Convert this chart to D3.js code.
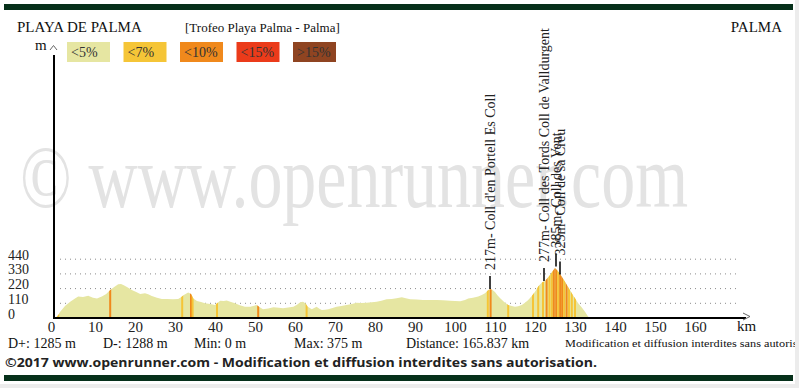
<!DOCTYPE html>
<html lang="fr">
<head>
<meta charset="utf-8">
<title>Profil</title>
<script src="https://cdn.jsdelivr.net/npm/d3@7"></script>
<style>
  body { margin: 0; background: #fff; }
  svg text { font-family: "Liberation Serif", "Times New Roman", serif; }
</style>
</head>
<body>
<div id="chart"></div>
<script>
// distance (km) and altitude (m)
var dist = [0, 0.8, 1.3, 2.5, 3.8, 5, 5.8, 7, 8.3, 9.5, 10.5, 11.7, 12.8, 13.8, 14.8, 15.8, 16.5, 17.2, 18.2, 19.2,
  20.3, 21.3, 22.5, 23.3, 24.2, 25.5, 26.7, 28, 29.5, 30.8, 31.5, 32.2, 33.3, 34, 34.6, 35.5, 36.5, 37.5, 38.8, 40,
  40.6, 41.3, 42.2, 42.9, 44, 45, 46.2, 47.5, 48.8, 50.4, 51.2, 52, 53.3, 54.6, 56, 57, 58.3, 59.6, 60.5, 61.3,
  62, 62.6, 63.2, 64.2, 64.8, 65.4, 66.1, 66.7, 67.5, 68.3, 69.4, 70.4, 71.6, 72.9, 74.2, 75.4, 76.6, 77.9, 79.2, 80.4,
  81.6, 82.9, 84.2, 85.4, 86.7, 87.7, 88.8, 90.4, 92, 93.7, 95.4, 97, 98.8, 100, 101.3, 102.5, 103.3, 104.5, 105.8, 106.7,
  107.5, 108.2, 108.75, 109.3, 110, 110.6, 111.3, 112.3, 113.3, 114.2, 115, 115.8, 116.7, 117.5, 118.3, 119.2, 120, 120.8, 121.7, 122.5,
  123.1, 123.75, 124.4, 125, 125.6, 126.25, 126.9, 127.5, 128.3, 129.2, 130, 130.8, 131.7, 132.5, 133.3, 134.5, 136, 138, 140, 142,
  144, 146, 148, 150, 152, 154, 156, 158, 160, 162, 164, 165.837];
var elev = [0, 20, 47, 90, 122, 145, 160, 158, 166, 152, 145, 160, 180, 210, 232, 252, 255, 245, 228, 210,
  195, 180, 186, 178, 165, 152, 142, 143, 141, 142, 155, 172, 190, 180, 145, 128, 120, 110, 104, 97,
  112, 130, 127, 131, 120, 110, 95, 85, 85, 97, 80, 65, 72, 80, 76, 73, 78, 85, 100, 117,
  122, 110, 85, 65, 75, 85, 70, 60, 62, 65, 75, 85, 90, 97, 105, 115, 113, 115, 118, 122,
  130, 140, 143, 147, 155, 148, 140, 138, 135, 134, 135, 133, 130, 128, 125, 135, 145, 152, 160, 172,
  185, 205, 217, 212, 195, 170, 147, 120, 97, 90, 85, 88, 97, 115, 135, 165, 197, 235, 265, 277,
  298, 322, 350, 375, 355, 330, 300, 272, 230, 185, 148, 110, 78, 47, 10, 4, 3, 5, 3, 4,
  6, 3, 5, 3, 6, 4, 3, 5, 4, 3, 2, 0];

// steep sections: km and slope class (index into legend)
var steepKm = [0.8, 13.8, 31.8, 34.0, 34.4, 40.5, 50.8, 62.9, 108.2, 108.9, 113.3, 119.5, 120.8, 122.0, 122.9,
  123.6, 124.2, 124.7, 125.3, 125.8, 126.3, 126.8, 127.3, 127.9, 128.5, 129.2, 130.0];
var steepClass = [1, 2, 1, 2, 1, 1, 2, 1, 1, 2, 1, 1, 1, 1, 2, 1, 1, 2, 2, 1, 2, 2, 1, 2, 1, 1, 1];

var legendLabels = ["<5%", "<7%", "<10%", "<15%", ">15%"];
var legendColors = ["#e6e6a2", "#f5c537", "#f0891c", "#eb3b1a", "#8f4421"];

var xTicks = [0, 10, 20, 30, 40, 50, 60, 70, 80, 90, 100, 110, 120, 130, 140, 150, 160];
var yTicks = [0, 110, 220, 330, 440];

var peakKm = [108.75, 122.25, 125.25, 126.25];
var peakEle = [217, 277, 385, 325];
var peakName = ["Coll d'en Portell Es Coll", "Coll des Tords Coll de Valldurgent", "Coll des Vent", "Coll de sa Creu"];

var statLabels = ["D+: 1285 m", "D-: 1288 m", "Min: 0 m", "Max: 375 m", "Distance: 165.837 km"];
var statX = [8, 103, 194, 294, 406];

var W = 799, H = 388;

var svg = d3.select("#chart").append("svg")
  .attr("width", W)
  .attr("height", H);

// top and bottom bars
svg.append("rect").attr("x", 4).attr("y", 4).attr("width", 789).attr("height", 6).attr("fill", "#06301a");
svg.append("rect").attr("x", 4).attr("y", 375).attr("width", 789).attr("height", 6).attr("fill", "#06301a");

// watermark
svg.append("text")
  .attr("x", 20).attr("y", 207)
  .attr("font-size", 88)
  .attr("textLength", 668)
  .attr("lengthAdjust", "spacingAndGlyphs")
  .attr("fill", "#e3e3e3")
  .text("\u00a9 www.openrunner.com");

// titles
svg.append("text").attr("x", 17).attr("y", 32).attr("font-size", 15).attr("fill", "#111").text("PLAYA DE PALMA");
svg.append("text").attr("x", 185).attr("y", 32).attr("font-size", 13).attr("fill", "#111").text("[Trofeo Playa Palma - Palma]");
svg.append("text").attr("x", 782).attr("y", 32).attr("font-size", 15).attr("text-anchor", "end").attr("fill", "#111").text("PALMA");

// legend
var leg = svg.append("g").selectAll("g")
  .data(legendLabels)
  .join("g")
  .attr("transform", function (d, i) { return "translate(" + (67 + i * 56.5) + ",42)"; });
leg.append("rect").attr("width", 43).attr("height", 20)
  .attr("fill", function (d, i) { return legendColors[i]; });
leg.append("text").attr("x", 4).attr("y", 15).attr("font-size", 14).attr("fill", "#333")
  .text(function (d) { return d; });

// scales
var x = d3.scaleLinear().domain([0, 165.837]).range([55, 55 + 4 * 165.837]);
var y = d3.scaleLinear().domain([0, 440]).range([318, 259.2]);

// grid
svg.append("g").selectAll("line")
  .data(yTicks.slice(1))
  .join("line")
  .attr("x1", 60).attr("x2", 738)
  .attr("y1", function (d) { return y(d); })
  .attr("y2", function (d) { return y(d); })
  .attr("stroke", "#8a8a8a")
  .attr("stroke-dasharray", "1,4");

// profile
var pts = dist.map(function (d, i) { return [d, elev[i]]; });
var area = d3.area()
  .x(function (d) { return x(d[0]); })
  .y0(y(0))
  .y1(function (d) { return y(d[1]); });

svg.append("clipPath").attr("id", "prof")
  .append("path").attr("d", area(pts));

svg.append("path")
  .attr("d", area(pts))
  .attr("fill", legendColors[0]);

svg.append("g").attr("clip-path", "url(#prof)")
  .selectAll("rect")
  .data(steepKm)
  .join("rect")
  .attr("x", function (d) { return x(d) - 1; })
  .attr("width", 2)
  .attr("y", y(440))
  .attr("height", y(0) - y(440))
  .attr("fill", function (d, i) { return legendColors[steepClass[i]]; });

// axes
var xAxis = d3.axisBottom(x).tickValues(xTicks).tickSize(0).tickPadding(3);
var gx = svg.append("g").attr("transform", "translate(0,318)").call(xAxis);
gx.select(".domain").remove();
gx.selectAll("text").attr("font-size", 15).attr("font-family", "Liberation Serif").attr("fill", "#222")
  .attr("dx", function (d) { return d === 0 ? -4 : 0; });

var yAxis = d3.axisLeft(y).tickValues(yTicks).tickSize(0);
var gy = svg.append("g").attr("transform", "translate(32,0)").call(yAxis);
gy.select(".domain").remove();
gy.selectAll("text")
  .attr("text-anchor", "start").attr("x", -24).attr("dy", 0)
  .attr("font-size", 14).attr("font-family", "Liberation Serif").attr("fill", "#222");

svg.append("line").attr("x1", 53).attr("x2", 746).attr("y1", 318).attr("y2", 318)
  .attr("stroke", "#000").attr("stroke-width", 2);
svg.append("line").attr("x1", 54).attr("x2", 54).attr("y1", 55).attr("y2", 319)
  .attr("stroke", "#000").attr("stroke-width", 2);
svg.append("path").attr("d", "M50,50L53.5,45.5L57,50").attr("fill", "none").attr("stroke", "#666");
svg.append("path").attr("d", "M743,313L750,316.5L743,320").attr("fill", "none").attr("stroke", "#666");
svg.append("text").attr("x", 35).attr("y", 50).attr("font-size", 15).attr("fill", "#111").text("m");
svg.append("text").attr("x", 737).attr("y", 331).attr("font-size", 15).attr("fill", "#111").text("km");

// passes
var pk = svg.append("g").selectAll("g")
  .data(peakKm)
  .join("g");
pk.append("line")
  .attr("x1", function (d) { return x(d); })
  .attr("x2", function (d) { return x(d); })
  .attr("y1", function (d, i) { return y(peakEle[i]); })
  .attr("y2", function (d, i) { return y(peakEle[i]) - 13; })
  .attr("stroke", "#000").attr("stroke-width", 1.5);
pk.append("text")
  .attr("transform", function (d, i) {
    return "translate(" + (x(d) + 4.5) + "," + (y(peakEle[i]) - 19) + ") rotate(-90)";
  })
  .attr("font-size", 14).attr("fill", "#222")
  .text(function (d, i) { return peakEle[i] + "m- " + peakName[i]; });

// stats line
svg.append("g").selectAll("text")
  .data(statLabels)
  .join("text")
  .attr("x", function (d, i) { return statX[i]; })
  .attr("y", 348)
  .attr("font-size", 14).attr("fill", "#111")
  .text(function (d) { return d; });
svg.append("text").attr("x", 565).attr("y", 347).attr("font-size", 11).attr("fill", "#111")
  .attr("textLength", 260).attr("lengthAdjust", "spacingAndGlyphs")
  .text("Modification et diffusion interdites sans autorisation.");

svg.append("text").attr("x", 5).attr("y", 367)
  .style("font-family", "'Open Sans', sans-serif")
  .attr("font-weight", "bold").attr("font-size", 13).attr("fill", "#222")
  .attr("textLength", 592).attr("lengthAdjust", "spacingAndGlyphs")
  .text("\u00a92017 www.openrunner.com - Modification et diffusion interdites sans autorisation.");

// light frame edge (covers the overflow of the small note, as in the original)
svg.append("rect").attr("x", 795).attr("y", 0).attr("width", 4).attr("height", H).attr("fill", "#ececec");
svg.append("rect").attr("x", 0).attr("y", 384).attr("width", W).attr("height", 4).attr("fill", "#ececec");
</script>
</body>
</html>
